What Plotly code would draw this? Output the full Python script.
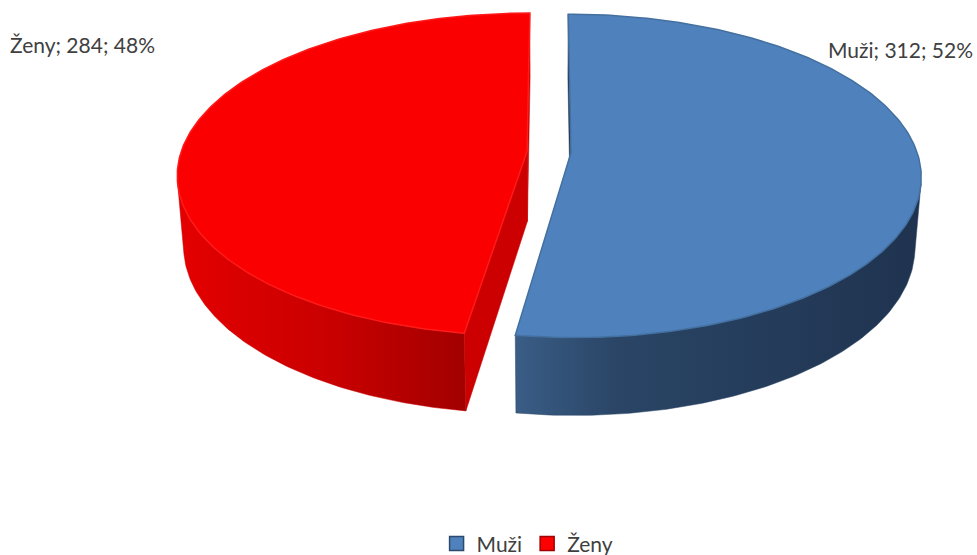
import numpy as np
import plotly.graph_objects as go

# data
labels = ["Muži", "Ženy"]
values = [312, 284]

# styles
top_colors = ["#4f81bd", "#fb0000"]
rim_colors = ["#43709f", "#ff1a1a"]
wall_scales = [
    [[0, "#3a5d86"], [0.25, "#2a4566"], [1, "#1f334f"]],
    [[0, "#e40000"], [0.55, "#c80000"], [1, "#a20000"]],
]
cut_colors = ["#1f3350", "#cc0000"]
legend_colors = ["#4f81bd", "#ff0000"]
legend_borders = ["#2c4a6e", "#a00000"]

W, HPX = 977, 555

# 3d geometry of the pie (pixel units at the pie centre)
cx0, cy0 = 549, 152
R = 346
EXPLODE = 22
THICK = 80
phi = np.arcsin(160 / 350)
D = R * np.cos(phi) / 0.143


def project(X, Y, Z):
    d = D - (Y * np.sin(phi) + Z * np.cos(phi))
    k = D / d
    return cx0 + k * X, cy0 - k * (Y * np.cos(phi) - Z * np.sin(phi))


def signed_area(xs, ys):
    xs = np.asarray(xs)
    ys = np.asarray(ys)
    return 0.5 * np.sum(xs * np.roll(ys, -1) - np.roll(xs, -1) * ys)


total = sum(values)
fracs = [v / total for v in values]
starts = np.cumsum([0] + fracs[:-1]) * 2 * np.pi
ends = starts + np.array(fracs) * 2 * np.pi

walls = []
tops = []

for i, lab in enumerate(labels):
    t0, t1 = starts[i], ends[i]
    tm = 0.5 * (t0 + t1)
    ox, oz = EXPLODE * np.sin(tm), -EXPLODE * np.cos(tm)
    th = np.linspace(t0, t1, 240)
    X = ox + R * np.sin(th)
    Z = oz - R * np.cos(th)
    tx, ty = project(X, 0, Z)
    bx, by = project(X, -THICK, Z)
    ctx, cty = project(ox, 0, oz)
    cbx, cby = project(ox, -THICK, oz)

    # radial cut walls (only those facing the viewer)
    faces = [
        ([ctx, tx[0], bx[0], cbx], [cty, ty[0], by[0], cby]),
        ([tx[-1], ctx, cbx, bx[-1]], [ty[-1], cty, cby, by[-1]]),
    ]
    for fx, fy in faces:
        if signed_area(fx, fy) < 0:
            walls.append(go.Scatter(
                x=fx + [fx[0]], y=fy + [fy[0]], fill="toself", mode="lines",
                fillcolor=cut_colors[i], line=dict(color=cut_colors[i], width=0.5),
                hoverinfo="skip", showlegend=False,
            ))

    # outer curved wall, visible part
    vis = [j for j in range(len(th) - 1)
           if signed_area([tx[j], tx[j + 1], bx[j + 1], bx[j]],
                          [ty[j], ty[j + 1], by[j + 1], by[j]]) < 0]
    if vis:
        a, b = vis[0], vis[-1] + 1
        wx = list(tx[a:b + 1]) + list(bx[a:b + 1][::-1])
        wy = list(ty[a:b + 1]) + list(by[a:b + 1][::-1])
        walls.append(go.Scatter(
            x=wx + [wx[0]], y=wy + [wy[0]], fill="toself", mode="lines",
            fillgradient=dict(type="horizontal", colorscale=wall_scales[i]),
            line=dict(color=wall_scales[i][1][1], width=0.5),
            hoverinfo="skip", showlegend=False,
        ))

    # top face
    fx = [ctx] + list(tx) + [ctx]
    fy = [cty] + list(ty) + [cty]
    tops.append(go.Scatter(
        x=fx, y=fy, fill="toself", mode="lines",
        fillcolor=top_colors[i], line=dict(color=rim_colors[i], width=1.5),
        hoverinfo="skip", showlegend=False,
    ))

fig = go.Figure(walls + tops)

# legend entries
for i, lab in enumerate(labels):
    fig.add_trace(go.Scatter(
        x=[None], y=[None], mode="markers", name=lab,
        marker=dict(symbol="square", size=14, color=legend_colors[i],
                    line=dict(color=legend_borders[i], width=1.5)),
    ))

# data labels
label_pos = [dict(x=0.998, y=0.910, xanchor="right"),
             dict(x=0.008, y=0.919, xanchor="left")]
for i, lab in enumerate(labels):
    pct = round(100 * values[i] / total)
    fig.add_annotation(
        text=f"{lab}; {values[i]}; {pct}%", xref="paper", yref="paper",
        showarrow=False, yanchor="middle",
        font=dict(size=21, color="#404040", family="Lato"),
        **label_pos[i],
    )

fig.update_layout(
    width=W, height=HPX,
    margin=dict(l=0, r=0, t=0, b=0, autoexpand=False),
    paper_bgcolor="white", plot_bgcolor="white",
    xaxis=dict(range=[0, W], visible=False, fixedrange=True),
    yaxis=dict(range=[HPX, 0], visible=False, fixedrange=True),
    legend=dict(orientation="h", x=0.54, xanchor="center", y=-0.017,
                yanchor="bottom", font=dict(size=21, color="#404040", family="Lato"),
                itemwidth=30, bgcolor="rgba(0,0,0,0)"),
    showlegend=True,
)

fig.write_html("out.html", post_script="document.body.style.margin='0';",
               config={"displayModeBar": False})
